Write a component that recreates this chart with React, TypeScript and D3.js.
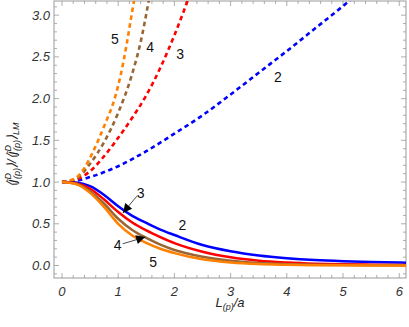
import React from "react";
import * as d3 from "d3";

// solid curves (decreasing)
const solidX = [0, 0.25, 0.5, 0.75, 1, 1.25, 1.5, 1.75, 2, 2.5, 3, 3.5, 4, 4.5, 5, 5.5, 6, 6.2];
const solid2 = [1, 0.995, 0.95, 0.845, 0.71, 0.595, 0.51, 0.43, 0.365, 0.245, 0.17, 0.12, 0.088, 0.066, 0.052, 0.042, 0.035, 0.033];
const solid3 = [1, 0.985, 0.92, 0.79, 0.64, 0.515, 0.42, 0.34, 0.268, 0.165, 0.098, 0.058, 0.036, 0.022, 0.014, 0.01, 0.007, 0.006];
const solid4 = [1, 0.98, 0.89, 0.74, 0.56, 0.425, 0.33, 0.25, 0.186, 0.105, 0.056, 0.029, 0.016, 0.009, 0.005, 0.003, 0.002, 0.002];
const solid5 = [1, 0.975, 0.87, 0.7, 0.5, 0.36, 0.27, 0.2, 0.148, 0.074, 0.036, 0.017, 0.009, 0.004, 0.002, 0.001, 0.001, 0.001];

// dashed curves (increasing)
const dash2X = [0, 0.25, 0.5, 1, 1.5, 2, 2.5, 3, 3.5, 4, 4.5, 5, 5.3];
const dash2 = [1, 1.015, 1.06, 1.19, 1.37, 1.58, 1.8, 2.05, 2.31, 2.57, 2.84, 3.11, 3.28];
const dash3X = [0, 0.25, 0.5, 0.75, 1, 1.25, 1.5, 1.75, 2, 2.25];
const dash3 = [1, 1.03, 1.13, 1.31, 1.53, 1.77, 2.04, 2.37, 2.76, 3.2];
const dash4X = [0, 0.25, 0.5, 0.75, 1, 1.25, 1.4, 1.55];
const dash4 = [1, 1.04, 1.22, 1.48, 1.83, 2.3, 2.68, 3.2];
const dash5X = [0, 0.25, 0.4, 0.55, 0.75, 0.95, 1.05, 1.15, 1.25, 1.3];
const dash5 = [1, 1.05, 1.17, 1.36, 1.67, 2.03, 2.3, 2.65, 3.05, 3.25];

const xTicks = [0, 1, 2, 3, 4, 5, 6];
const yTicks = [0, 0.5, 1, 1.5, 2, 2.5, 3];

const colors = { 2: "#0000ff", 3: "#ff0000", 4: "#996633", 5: "#ff8000" };

// curve labels, in data units
const curveLabels = [
  { t: "5", x: 0.94, y: 2.72 },
  { t: "4", x: 1.57, y: 2.62 },
  { t: "3", x: 2.1, y: 2.54 },
  { t: "2", x: 3.84, y: 2.26 },
  { t: "2", x: 2.14, y: 0.485 },
  { t: "3", x: 1.4, y: 0.87 },
  { t: "4", x: 0.99, y: 0.245 },
  { t: "5", x: 1.62, y: 0.04 },
];
const arrows = [
  { x1: 1.33, y1: 0.83, x2: 1.085, y2: 0.63 },
  { x1: 1.08, y1: 0.26, x2: 1.48, y2: 0.34 },
];

const W = 409;
const H = 327;
const frame = { left: 54, right: 406, top: 1, bottom: 278 };

export default function App() {
  const x = d3.scaleLinear().domain([-0.142, 6.12]).range([frame.left, frame.right]);
  const y = d3.scaleLinear().domain([-0.15, 3.17]).range([frame.bottom, frame.top]);

  const line = d3
    .line<[number, number]>()
    .x((d) => x(d[0]))
    .y((d) => y(d[1]))
    .curve(d3.curveMonotoneX);

  const zip = (xs: number[], ys: number[]) => xs.map((v, i) => [v, ys[i]] as [number, number]);

  const solids = [
    { n: 2, d: zip(solidX, solid2) },
    { n: 3, d: zip(solidX, solid3) },
    { n: 4, d: zip(solidX, solid4) },
    { n: 5, d: zip(solidX, solid5) },
  ];
  const dashes = [
    { n: 2, d: zip(dash2X, dash2) },
    { n: 3, d: zip(dash3X, dash3) },
    { n: 4, d: zip(dash4X, dash4) },
    { n: 5, d: zip(dash5X, dash5) },
  ];

  const xMinor = d3.range(0, 6.2, 0.2).filter((v) => Math.abs(v - Math.round(v)) > 1e-6);
  const yMinor = d3.range(-0.1, 3.2, 0.1).filter((v) => Math.abs(v * 2 - Math.round(v * 2)) > 1e-6);

  const tickColor = "#999";
  const font = "'Liberation Sans', Arial, sans-serif";

  return (
    <svg width={W} height={H} style={{ position: "absolute", left: 0, top: 0 }}>
      <defs>
        <clipPath id="plot">
          <rect x={frame.left} y={frame.top} width={frame.right - frame.left} height={frame.bottom - frame.top} />
        </clipPath>
        <marker id="ah" viewBox="0 0 10 10" refX="10" refY="5" markerWidth="12" markerHeight="9" markerUnits="userSpaceOnUse" orient="auto">
          <path d="M0,0 L10,5 L0,10 z" fill="#000" />
        </marker>
      </defs>

      {/* frame */}
      <rect x={frame.left} y={frame.top} width={frame.right - frame.left} height={frame.bottom - frame.top} fill="none" stroke={tickColor} strokeWidth={1} />

      {/* ticks on all sides */}
      <g stroke={tickColor} strokeWidth={0.8}>
        {xTicks.map((t) => (
          <g key={"xt" + t}>
            <line x1={x(t)} x2={x(t)} y1={frame.bottom} y2={frame.bottom - 5} />
            <line x1={x(t)} x2={x(t)} y1={frame.top} y2={frame.top + 5} />
          </g>
        ))}
        {xMinor.map((t) => (
          <g key={"xm" + t}>
            <line x1={x(t)} x2={x(t)} y1={frame.bottom} y2={frame.bottom - 3} />
            <line x1={x(t)} x2={x(t)} y1={frame.top} y2={frame.top + 3} />
          </g>
        ))}
        {yTicks.map((t) => (
          <g key={"yt" + t}>
            <line x1={frame.left} x2={frame.left + 5} y1={y(t)} y2={y(t)} />
            <line x1={frame.right} x2={frame.right - 5} y1={y(t)} y2={y(t)} />
          </g>
        ))}
        {yMinor.map((t) => (
          <g key={"ym" + t}>
            <line x1={frame.left} x2={frame.left + 3} y1={y(t)} y2={y(t)} />
            <line x1={frame.right} x2={frame.right - 3} y1={y(t)} y2={y(t)} />
          </g>
        ))}
      </g>

      {/* tick labels */}
      <g fontFamily={font} fontStyle="italic" fontSize={13} fill="#333">
        {xTicks.map((t) => (
          <text key={"xl" + t} x={x(t)} y={frame.bottom + 18} textAnchor="middle">
            {t}
          </text>
        ))}
        {yTicks.map((t) => (
          <text key={"yl" + t} x={frame.left - 4} y={y(t) + 4.5} textAnchor="end">
            {t.toFixed(1)}
          </text>
        ))}
      </g>

      {/* curves */}
      <g clipPath="url(#plot)" fill="none">
        {dashes.map((s) => (
          <path key={"d" + s.n} d={line(s.d) || ""} stroke={colors[s.n]} strokeWidth={2.6} strokeDasharray="4.5,3.5" />
        ))}
        {solids.map((s) => (
          <path key={"s" + s.n} d={line(s.d) || ""} stroke={colors[s.n]} strokeWidth={2.5} />
        ))}
      </g>

      {/* arrows */}
      {arrows.map((a, i) => (
        <line key={"a" + i} x1={x(a.x1)} y1={y(a.y1)} x2={x(a.x2)} y2={y(a.y2)} stroke="#000" strokeWidth={0.7} markerEnd="url(#ah)" />
      ))}

      {/* curve labels */}
      <g fontFamily={font} fontSize={14} fill="#111">
        {curveLabels.map((l, i) => (
          <text key={"cl" + i} x={x(l.x)} y={y(l.y) + 5} textAnchor="middle">
            {l.t}
          </text>
        ))}
      </g>

      {/* axis titles */}
      <text x={230} y={307} fontFamily={font} fontStyle="italic" fontSize={13} fill="#222" textAnchor="middle">
        L<tspan fontSize={9} dy={3}>(p)</tspan>
        <tspan dy={-3}>/a</tspan>
      </text>
      <g transform="translate(16,155) rotate(-90)">
        <text x={0} y={0} fontFamily={font} fontStyle="italic" fontSize={13} fill="#222" textAnchor="middle">
          {"⟨j"}
          <tspan fontSize={9} dy={-5}>D</tspan>
          <tspan fontSize={9} dx={-6} dy={9}>(p)</tspan>
          <tspan dy={-4}>{"⟩/⟨j"}</tspan>
          <tspan fontSize={9} dy={-5}>D</tspan>
          <tspan fontSize={9} dx={-6} dy={9}>(p)</tspan>
          <tspan dy={-4}>{"⟩"}</tspan>
          <tspan fontSize={9} dy={3}>LM</tspan>
        </text>
      </g>
    </svg>
  );
}
